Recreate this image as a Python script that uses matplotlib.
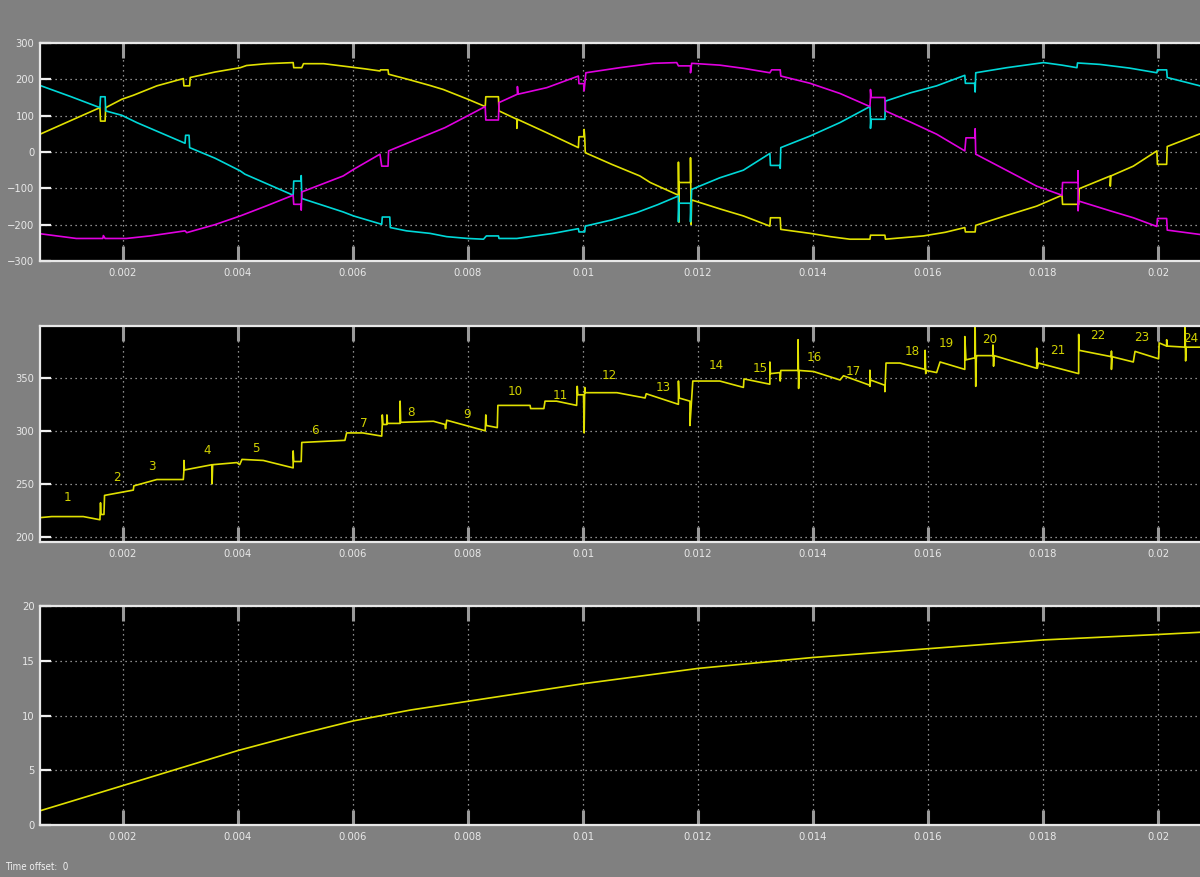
import numpy as np
import matplotlib.pyplot as plt

plt.rcParams['font.family'] = ['DejaVu Sans']
plt.rcParams['font.stretch'] = 'condensed'

# ---- panel 1: phase voltages (time in s, volts) ----
t_a = [0.00056, 0.00110, 0.00160, 0.00161, 0.00169, 0.00170, 0.00198, 0.00218, 0.00259, 0.00305,
       0.00306, 0.00316, 0.00317, 0.00360, 0.00404, 0.00415, 0.00450, 0.00496, 0.00497, 0.00511,
       0.00514, 0.00549, 0.00595, 0.00620, 0.00647, 0.00648, 0.00661, 0.00662, 0.00700, 0.00734,
       0.00757, 0.00800, 0.00830, 0.00831, 0.00853, 0.00854, 0.00885, 0.00885, 0.00886, 0.00937,
       0.00992, 0.00993, 0.01002, 0.01002, 0.01003, 0.01004, 0.01050, 0.01099, 0.01117, 0.01166,
       0.01166, 0.01167, 0.01167, 0.01187, 0.01187, 0.01188, 0.01189, 0.01241, 0.01279, 0.01325,
       0.01326, 0.01343, 0.01344, 0.01395, 0.01430, 0.01464, 0.01499, 0.01500, 0.01525, 0.01526,
       0.01592, 0.01630, 0.01664, 0.01665, 0.01682, 0.01683, 0.01730, 0.01789, 0.01833, 0.01834,
       0.01862, 0.01863, 0.01917, 0.01917, 0.01918, 0.01957, 0.01998, 0.01999, 0.02015, 0.02016,
       0.02073]
v_a = [49, 87, 122, 85, 85, 122, 145, 156, 182, 202,
       182, 182, 205, 220, 232, 238, 243, 246, 232, 232,
       243, 243, 234, 229, 223, 226, 226, 214, 198, 183,
       172, 145, 125, 152, 152, 113, 90, 65, 90, 53,
       12, 42, 42, 62, 42, -2, -34, -66, -84, -119,
       -28, -193, -84, -84, -16, -199, -132, -158, -176, -204,
       -181, -181, -213, -224, -233, -240, -240, -229, -229, -240,
       -231, -221, -208, -220, -220, -202, -178, -149, -119, -144,
       -144, -101, -66, -94, -66, -39, 3, -34, -34, 15,
       50]

t_b = [0.00056, 0.00110, 0.00160, 0.00161, 0.00169, 0.00170, 0.00198, 0.00224, 0.00308, 0.00309,
       0.00315, 0.00316, 0.00360, 0.00404, 0.00412, 0.00496, 0.00497, 0.00510, 0.00510, 0.00511,
       0.00550, 0.00583, 0.00601, 0.00650, 0.00651, 0.00664, 0.00665, 0.00693, 0.00734, 0.00763,
       0.00800, 0.00827, 0.00832, 0.00853, 0.00854, 0.00885, 0.00948, 0.00992, 0.00993, 0.01003,
       0.01004, 0.01050, 0.01093, 0.01130, 0.01166, 0.01166, 0.01167, 0.01187, 0.01187, 0.01189,
       0.01238, 0.01279, 0.01325, 0.01326, 0.01343, 0.01343, 0.01344, 0.01395, 0.01447, 0.01499,
       0.01500, 0.01500, 0.01501, 0.01525, 0.01526, 0.01570, 0.01615, 0.01664, 0.01665, 0.01681,
       0.01682, 0.01683, 0.01737, 0.01801, 0.01833, 0.01859, 0.01860, 0.01899, 0.01950, 0.01998,
       0.01999, 0.02015, 0.02016, 0.02073]
v_b = [183, 152, 122, 152, 152, 113, 101, 81, 24, 46,
       46, 12, -17, -52, -61, -119, -80, -80, -65, -128,
       -148, -165, -176, -199, -179, -179, -208, -217, -224, -233,
       -238, -240, -231, -231, -238, -238, -224, -211, -220, -220,
       -204, -187, -167, -145, -121, -192, -141, -141, -192, -103,
       -71, -50, -4, -37, -37, -45, 12, 44, 81, 125,
       90, 65, 90, 90, 140, 163, 182, 211, 189, 189,
       165, 218, 232, 246, 239, 232, 245, 241, 231, 218,
       226, 226, 205, 182]

t_c = [0.00056, 0.00119, 0.00165, 0.00166, 0.00169, 0.00206, 0.00247, 0.00308, 0.00311, 0.00360,
       0.00404, 0.00450, 0.00496, 0.00497, 0.00510, 0.00510, 0.00511, 0.00583, 0.00601, 0.00647,
       0.00650, 0.00661, 0.00662, 0.00734, 0.00760, 0.00800, 0.00830, 0.00831, 0.00853, 0.00854,
       0.00886, 0.00886, 0.00887, 0.00937, 0.00992, 0.00993, 0.01002, 0.01002, 0.01005, 0.01064,
       0.01122, 0.01163, 0.01166, 0.01187, 0.01187, 0.01189, 0.01238, 0.01280, 0.01325, 0.01328,
       0.01343, 0.01344, 0.01395, 0.01447, 0.01499, 0.01500, 0.01500, 0.01501, 0.01525, 0.01526,
       0.01570, 0.01615, 0.01664, 0.01666, 0.01682, 0.01682, 0.01683, 0.01730, 0.01789, 0.01833,
       0.01834, 0.01861, 0.01861, 0.01861, 0.01862, 0.01917, 0.01957, 0.01998, 0.01999, 0.02015,
       0.02016, 0.02073]
v_c = [-225, -238, -238, -230, -238, -238, -231, -217, -222, -200,
       -176, -148, -119, -144, -144, -160, -110, -66, -48, -6,
       -39, -39, 3, 50, 67, 100, 125, 88, 88, 136,
       159, 180, 159, 177, 209, 188, 188, 168, 218, 232,
       244, 246, 237, 237, 218, 244, 239, 230, 218, 226,
       226, 209, 189, 161, 125, 150, 172, 150, 150, 113,
       82, 49, 3, 39, 39, 64, -6, -45, -94, -119,
       -84, -84, -52, -162, -135, -162, -181, -205, -183, -183,
       -215, -227]

# ---- panel 2: DC link voltage ----
t_dc = [0.00056, 0.00076, 0.00131, 0.00160, 0.00161, 0.00162, 0.00167, 0.00168, 0.00218, 0.00219,
        0.00259, 0.00305, 0.00306, 0.00306, 0.00307, 0.00355, 0.00355, 0.00356, 0.00398, 0.00403,
        0.00407, 0.00444, 0.00496, 0.00496, 0.00497, 0.00510, 0.00511, 0.00586, 0.00589, 0.00617,
        0.00650, 0.00651, 0.00651, 0.00652, 0.00659, 0.00659, 0.00660, 0.00682, 0.00682, 0.00683,
        0.00740, 0.00760, 0.00761, 0.00762, 0.00763, 0.00830, 0.00831, 0.00832, 0.00851, 0.00852,
        0.00908, 0.00909, 0.00932, 0.00934, 0.00954, 0.00989, 0.00990, 0.00991, 0.01001, 0.01002,
        0.01003, 0.01004, 0.01059, 0.01108, 0.01110, 0.01166, 0.01166, 0.01167, 0.01186, 0.01186,
        0.01191, 0.01238, 0.01279, 0.01280, 0.01325, 0.01325, 0.01326, 0.01343, 0.01343, 0.01344,
        0.01374, 0.01374, 0.01375, 0.01376, 0.01401, 0.01447, 0.01453, 0.01499, 0.01499, 0.01499,
        0.01500, 0.01525, 0.01525, 0.01527, 0.01551, 0.01595, 0.01595, 0.01596, 0.01597, 0.01615,
        0.01621, 0.01664, 0.01664, 0.01666, 0.01682, 0.01682, 0.01683, 0.01684, 0.01685, 0.01713,
        0.01713, 0.01714, 0.01715, 0.01789, 0.01789, 0.01790, 0.01792, 0.01862, 0.01862, 0.01863,
        0.01919, 0.01919, 0.01919, 0.01920, 0.01957, 0.01960, 0.02001, 0.02002, 0.02002, 0.02015,
        0.02015, 0.02016, 0.02047, 0.02047, 0.02048, 0.02049, 0.02073]
v_dc = [218, 219, 219, 216, 232, 221, 221, 239, 244, 248,
        254, 254, 262, 272, 263, 268, 250, 268, 270, 268,
        273, 272, 265, 281, 271, 271, 289, 291, 298, 298,
        295, 306, 315, 306, 306, 315, 307, 307, 328, 308,
        309, 306, 302, 306, 310, 300, 315, 305, 303, 324,
        324, 321, 321, 328, 328, 324, 342, 334, 334, 298,
        341, 336, 336, 331, 335, 325, 347, 331, 328, 305,
        347, 347, 341, 349, 344, 365, 354, 355, 347, 357,
        357, 386, 340, 357, 356, 348, 352, 343, 357, 342,
        348, 343, 337, 364, 364, 358, 376, 354, 357, 355,
        365, 358, 389, 367, 369, 398, 342, 369, 371, 371,
        381, 361, 371, 359, 378, 359, 364, 354, 391, 376,
        370, 375, 358, 370, 365, 375, 368, 381, 383, 380,
        386, 380, 379, 399, 366, 379, 379]

# numbered markers along the DC trace
lbl_t = [0.00104, 0.00190, 0.00250, 0.00346, 0.00431, 0.00534, 0.00619, 0.00701, 0.00798, 0.00883,
         0.00960, 0.01045, 0.01139, 0.01231, 0.01308, 0.01402, 0.01470, 0.01572, 0.01631, 0.01708,
         0.01826, 0.01896, 0.01972, 0.02057]
lbl_v = [237, 256, 266, 281, 283, 300, 307, 317, 315, 337,
         333, 352, 341, 362, 359, 369, 356, 375, 382, 386,
         376, 390, 388, 387]

# ---- panel 3: slowly rising signal ----
t_s = [0.00056, 0.001, 0.002, 0.003, 0.004, 0.005, 0.006, 0.007, 0.008, 0.009, 0.010,
       0.011, 0.012, 0.013, 0.014, 0.015, 0.016, 0.017, 0.018, 0.019, 0.020, 0.02073]
v_s = [1.3, 2.0, 3.6, 5.2, 6.8, 8.2, 9.5, 10.5, 11.3, 12.1, 12.9,
       13.6, 14.3, 14.8, 15.3, 15.7, 16.1, 16.5, 16.9, 17.15, 17.4, 17.6]

xticks = [0.002, 0.004, 0.006, 0.008, 0.01, 0.012, 0.014, 0.016, 0.018, 0.02]
xlabels = ['0.002', '0.004', '0.006', '0.008', '0.01', '0.012', '0.014', '0.016', '0.018', '0.02']

YEL = '#e0e000'
CYN = '#00d8d8'
MAG = '#e000e0'

fig = plt.figure(figsize=(12, 8.77), dpi=100, facecolor='#808080')
boxes = [[0.0333, 0.7024, 0.9667, 0.2486],
         [0.0333, 0.3820, 0.9667, 0.2463],
         [0.0333, 0.0593, 0.9667, 0.2497]]
axs = [fig.add_axes(b) for b in boxes]


def style(ax, ylim, yticks):
    ax.set_facecolor('black')
    ax.set_xlim(0.000557, 0.02073)
    ax.set_ylim(*ylim)
    ax.set_xticks(xticks)
    ax.set_xticklabels(xlabels)
    ax.set_yticks(yticks)
    ax.grid(True, color='#b8b8b8', linestyle=(0, (1, 3)), linewidth=0.9)
    for s in ['top', 'left', 'bottom']:
        ax.spines[s].set_color('#e8e8e8')
        ax.spines[s].set_linewidth(1.6)
    ax.spines['right'].set_visible(False)
    ax.tick_params(axis='x', direction='in', length=11, width=2.2, color='#9a9a9a',
                   top=True, labelcolor='#e8e8e8', labelsize=8, pad=5)
    ax.tick_params(axis='y', direction='in', length=8, width=1.6, color='#f0f0f0',
                   labelcolor='#e8e8e8', labelsize=8, pad=4)


ax1, ax2, ax3 = axs
ax1.plot(t_a, v_a, color=YEL, lw=1.2)
ax1.plot(t_b, v_b, color=CYN, lw=1.2)
ax1.plot(t_c, v_c, color=MAG, lw=1.2)
style(ax1, (-300, 300), [-300, -200, -100, 0, 100, 200, 300])

ax2.plot(t_dc, v_dc, color=YEL, lw=1.2)
for i, (tt, vv) in enumerate(zip(lbl_t, lbl_v)):
    ax2.text(tt, vv, str(i + 1), color='#d0d000', fontsize=9.5, ha='center', va='center')
style(ax2, (195, 399), [200, 250, 300, 350])

ax3.plot(t_s, v_s, color=YEL, lw=1.2)
style(ax3, (0, 20), [0, 5, 10, 15, 20])

fig.text(0.004, 0.008, 'Time offset:  0', color='#f0f0f0', fontsize=7)

fig.savefig('out.png', dpi=100, facecolor=fig.get_facecolor())
